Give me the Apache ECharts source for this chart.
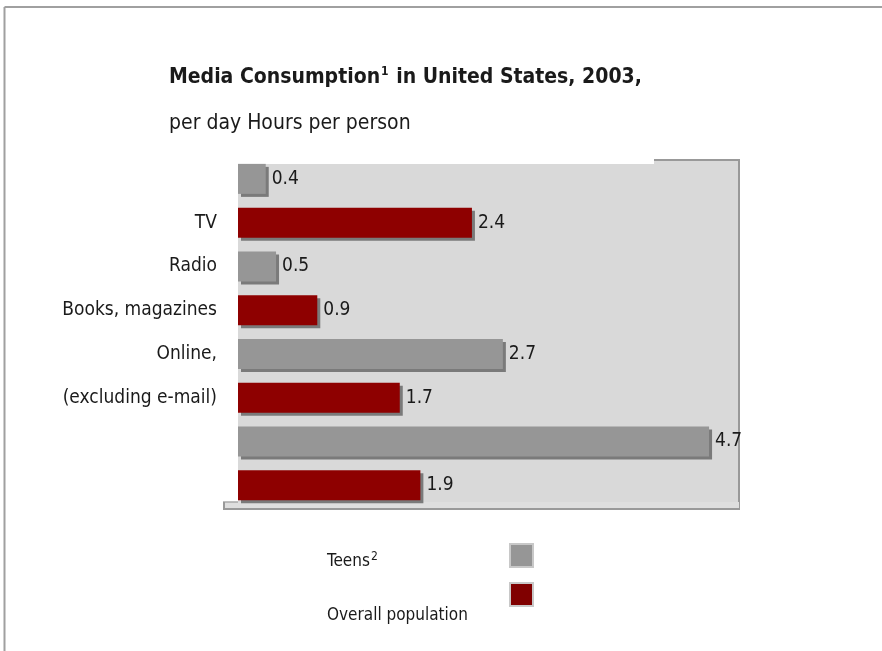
<!DOCTYPE html>
<html>
<head>
<meta charset="utf-8">
<script src="https://cdn.jsdelivr.net/npm/echarts@6/dist/echarts.min.js"></script>
<style>
html,body{margin:0;padding:0;background:#fff;}
#chart{width:882px;height:651px;}
</style>
</head>
<body>
<div id="chart"></div>
<script>
// Category tick labels (as shown on the original, one per bar slot)
const tickLabels = ["", "TV", "Radio", "Books, magazines", "Online,", "(excluding e-mail)", "", ""];
// Hours per person per day
const teens = [0.4, 0.5, 2.7, 4.7];
const overall = [2.4, 0.9, 1.7, 1.9];
const seriesNames = ["Teens", "Overall population"];

const FONT = '"DejaVu Sans Condensed", "Liberation Sans Narrow", "Liberation Sans", sans-serif';

// interleave: teens, overall, teens, overall ...
const teensSlots = [], overallSlots = [];
for (let i = 0; i < teens.length; i++) {
  teensSlots.push(teens[i], null);
  overallSlots.push(null, overall[i]);
}

const chart = echarts.init(document.getElementById('chart'), null, {renderer: 'canvas'});

const barLabel = {
  show: true, position: 'right', distance: 6,
  color: '#1a1a1a', fontFamily: FONT, fontSize: 19,
  formatter: p => p.value.toFixed(1)
};

chart.setOption({
  animation: false,
  backgroundColor: '#ffffff',
  title: [
    {
      left: 169, top: 66, padding: 0,
      text: '{b|Media Consumption}{s|1}{b| in United States, 2003,}',
      textStyle: {
        rich: {
          b: {fontFamily: FONT, fontSize: 21, fontWeight: 'bold', color: '#1a1a1a', lineHeight: 24},
          s: {fontFamily: FONT, fontSize: 12, color: '#1a1a1a', verticalAlign: 'top', lineHeight: 24, padding: [0, 1, 8, 1]}
        }
      }
    },
    {
      left: 169, top: 113, padding: 0,
      text: 'per day Hours per person',
      textStyle: {fontFamily: FONT, fontSize: 21, fontWeight: 'normal', color: '#1a1a1a'}
    }
  ],
  graphic: [
    // outer frame
    {type: 'line', shape: {x1: 4.5, y1: 7, x2: 882, y2: 7}, style: {stroke: '#a0a0a0', lineWidth: 2}, silent: true},
    {type: 'line', shape: {x1: 4.5, y1: 7, x2: 4.5, y2: 651}, style: {stroke: '#a0a0a0', lineWidth: 2}, silent: true},
    // plot wall
    {type: 'rect', z: -10, shape: {x: 238, y: 164, width: 502, height: 346}, style: {fill: '#d9d9d9'}, silent: true},
    {type: 'rect', z: -10, shape: {x: 654, y: 160, width: 86, height: 5}, style: {fill: '#d9d9d9'}, silent: true},
    {type: 'line', z: -9, shape: {x1: 654, y1: 160, x2: 740, y2: 160}, style: {stroke: '#999999', lineWidth: 2}, silent: true},
    {type: 'line', z: -9, shape: {x1: 739, y1: 160, x2: 739, y2: 510}, style: {stroke: '#999999', lineWidth: 2}, silent: true},
    // floor strip
    {type: 'rect', z: -9, shape: {x: 223, y: 502, width: 516, height: 7}, style: {fill: '#dedede'}, silent: true},
    {type: 'line', z: -9, shape: {x1: 223, y1: 502, x2: 238, y2: 502}, style: {stroke: '#a8a8a8', lineWidth: 1.5}, silent: true},
    {type: 'line', z: -9, shape: {x1: 224, y1: 502, x2: 224, y2: 510}, style: {stroke: '#999999', lineWidth: 2}, silent: true},
    {type: 'line', z: -9, shape: {x1: 223, y1: 509, x2: 740, y2: 509}, style: {stroke: '#999999', lineWidth: 2}, silent: true},
    // legend
    {type: 'rect', shape: {x: 510, y: 544, width: 23, height: 23}, style: {fill: '#969696', stroke: '#c8c8c8', lineWidth: 2}, silent: true},
    {type: 'rect', shape: {x: 510, y: 583, width: 23, height: 23}, style: {fill: '#800000', stroke: '#c8c8c8', lineWidth: 2}, silent: true},
    {type: 'text', left: 327, top: 551, style: {
      text: '{t|' + seriesNames[0] + '}{s|2}',
      rich: {
        t: {fontFamily: FONT, fontSize: 17, fill: '#1a1a1a', lineHeight: 22},
        s: {fontFamily: FONT, fontSize: 12, fill: '#1a1a1a', verticalAlign: 'top', lineHeight: 22, padding: [0, 0, 8, 1]}
      }
    }, silent: true},
    {type: 'text', left: 327, top: 607, style: {
      text: seriesNames[1], fontFamily: FONT, fontSize: 17, fill: '#1a1a1a'
    }, silent: true}
  ],
  grid: {left: 238, top: 157, width: 502, height: 350, containLabel: false},
  xAxis: {
    type: 'value', min: 0.131, max: 5,
    show: false, splitLine: {show: false}
  },
  yAxis: {
    type: 'category', inverse: true, data: tickLabels,
    axisLine: {show: false}, axisTick: {show: false}, splitLine: {show: false},
    axisLabel: {color: '#1a1a1a', fontFamily: FONT, fontSize: 19, margin: 21}
  },
  series: [
    {
      name: seriesNames[0], type: 'bar', data: teensSlots, barWidth: 30, barGap: '-100%', clip: true,
      itemStyle: {color: '#969696', shadowColor: '#7a7a7a', shadowOffsetX: 3, shadowOffsetY: 3, shadowBlur: 0},
      label: barLabel
    },
    {
      name: seriesNames[1], type: 'bar', data: overallSlots, barWidth: 30, barGap: '-100%', clip: true,
      itemStyle: {color: '#8e0000', shadowColor: '#7a7a7a', shadowOffsetX: 3, shadowOffsetY: 3, shadowBlur: 0},
      label: barLabel
    }
  ]
});
</script>
</body>
</html>
